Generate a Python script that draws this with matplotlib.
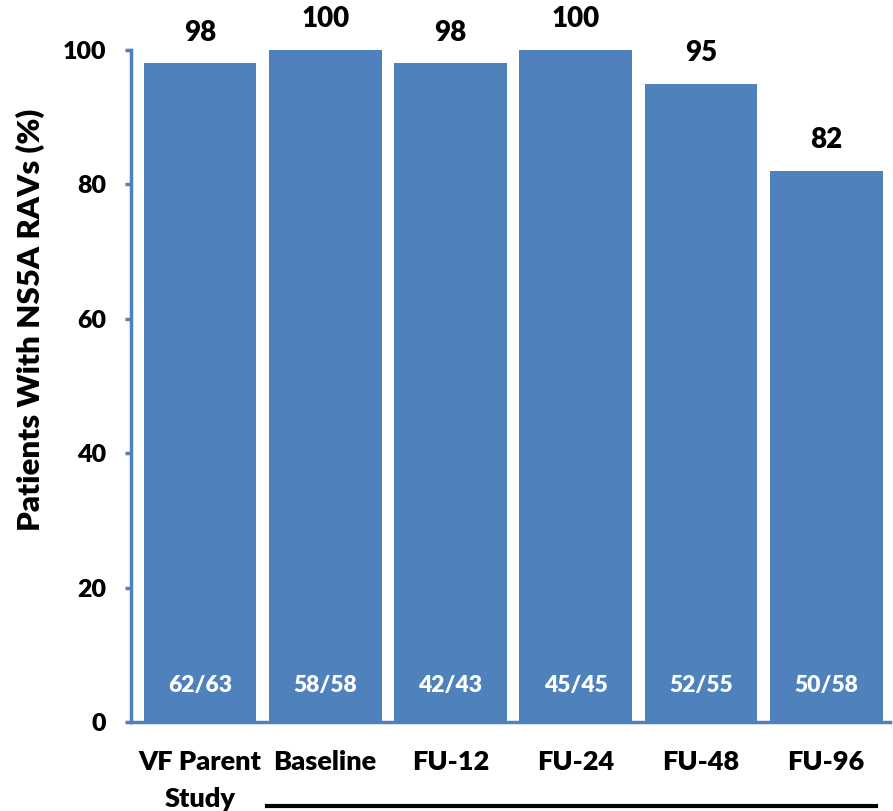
import matplotlib.pyplot as plt
from matplotlib.lines import Line2D
from matplotlib.transforms import blended_transform_factory

# Patients with NS5A RAVs at each timepoint
timepoints = ["VF Parent\nStudy", "Baseline", "FU-12", "FU-24", "FU-48", "FU-96"]
pct_rav    = [98, 100, 98, 100, 95, 82]
fractions  = ["62/63", "58/58", "42/43", "45/45", "52/55", "50/58"]
y_ticks    = [0, 20, 40, 60, 80, 100]

BLUE = "#4F81BD"
WEIGHT = "heavy"
plt.rcParams["font.family"] = ["Lato", "DejaVu Sans"]

fig = plt.figure(figsize=(8.93, 8.11), dpi=100)
ax = fig.add_axes([0.1467, 0.1097, 0.85, 0.8286])

x = list(range(len(timepoints)))
bars = ax.bar(x, pct_rav, width=0.9, color=BLUE)

# value labels above bars
for xi, v in zip(x, pct_rav):
    ax.text(xi, v + 3.4, f"{v}", ha="center", va="baseline",
            fontsize=20, fontweight=WEIGHT, color="black", clip_on=False)

# patient counts inside the bars
for xi, f in zip(x, fractions):
    ax.text(xi, 5.4, f, ha="center", va="center",
            fontsize=16.5, fontweight=WEIGHT, color="white")

ax.set_xlim(-0.55, 5.51)
ax.set_ylim(0, 100)
ax.set_yticks(y_ticks)
ax.set_yticklabels([str(t) for t in y_ticks], fontsize=18, fontweight=WEIGHT)
ax.set_xticks(x)
ax.set_xticklabels(timepoints, fontsize=19.5, fontweight=WEIGHT, linespacing=1.65)
ax.tick_params(axis="x", length=0, pad=20)
ax.tick_params(axis="y", length=4, width=2.5, color=BLUE, direction="out", pad=14)
ax.set_ylabel("Patients With NS5A RAVs (%)", fontsize=22.5, fontweight=WEIGHT)
ax.yaxis.set_label_coords(-0.113, 0.598)

for side in ["top", "right"]:
    ax.spines[side].set_visible(False)
for side in ["left", "bottom"]:
    ax.spines[side].set_color(BLUE)
    ax.spines[side].set_linewidth(2.5)

# bracket line under the follow-up timepoints
trans = blended_transform_factory(ax.transData, fig.transFigure)
ax.add_line(Line2D([0.536, 5.40], [0.006, 0.006], transform=trans,
                   color="black", linewidth=3, clip_on=False))

fig.savefig("out.png", dpi=100)
